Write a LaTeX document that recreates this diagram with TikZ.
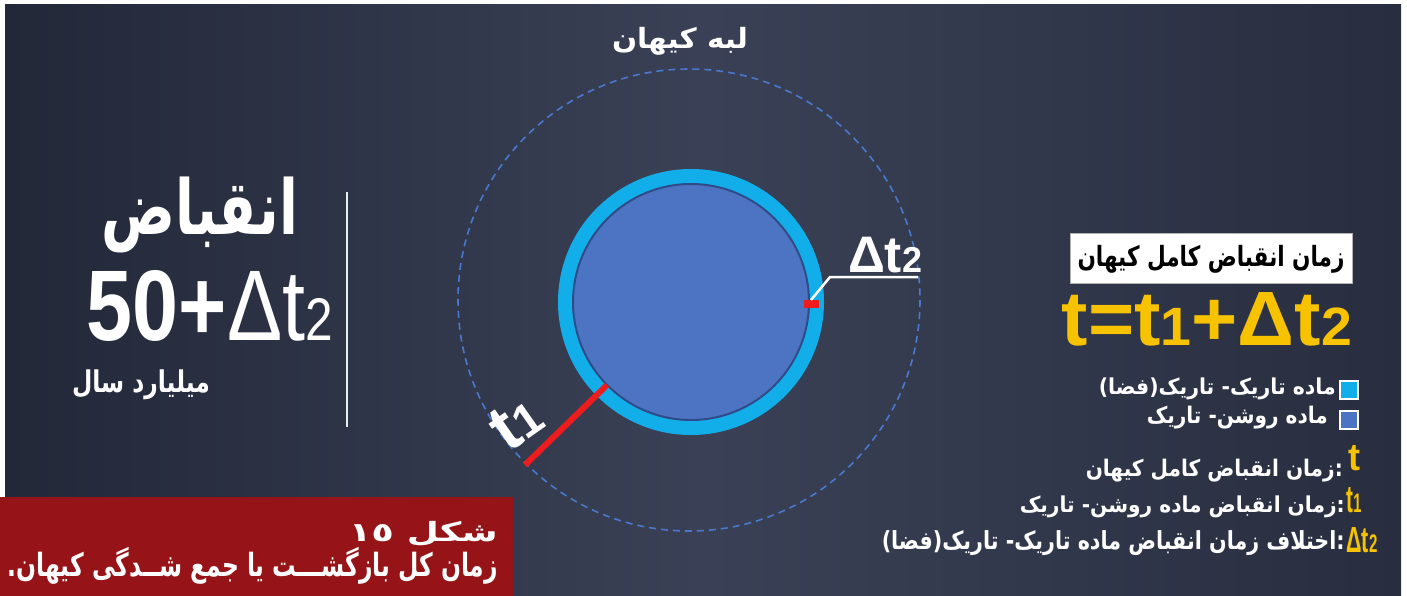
\documentclass[tikz,border=0pt]{standalone}
\usepackage{fontspec}
\usepackage{graphicx}
\setmainfont{Liberation Sans}
\newfontfamily\fa[Script=Arabic]{DejaVu Sans}
\TeXXeTstate=1
\newcommand\rtltext[1]{{\fa\bfseries\beginR #1\endR}}
\definecolor{bgL}{HTML}{222838}
\definecolor{bgM}{HTML}{3A4156}
\definecolor{bgR}{HTML}{282E3F}
\definecolor{ringblue}{HTML}{12AEEA}
\definecolor{diskblue}{HTML}{4D74C2}
\definecolor{diskedge}{HTML}{2F4C88}
\definecolor{dashblue}{HTML}{4A78CC}
\definecolor{tred}{HTML}{EE1C1C}
\definecolor{gold}{HTML}{F7C200}
\definecolor{boxred}{HTML}{961418}
\begin{document}
\begin{tikzpicture}[x=1pt,y=-1pt,
  lbl/.style={inner sep=0pt,text=white},
  goldlbl/.style={inner sep=0pt,text=gold},
  legsq/.style={draw=white,line width=1.5pt,minimum size=18pt,inner sep=0pt}]
\useasboundingbox (0,0) rectangle (1407,596);
\fill[white] (0,0) rectangle (1407,596);
\shade[left color=bgL,right color=bgR,middle color=bgM] (5,5) rectangle (1401,596);

% title
\node[lbl] (title) at (680,41) {\resizebox*{136pt}{28pt}{\rtltext{لبه کیهان}}};

% dashed edge of the cosmos
\coordinate (dc) at (689,300);
\draw[dashblue,line width=1.6pt,dash pattern=on 7pt off 5pt] (dc) circle[radius=231];

% ring and disk
\coordinate (c) at (691,302);
\fill[ringblue] (c) circle[radius=133];
\fill[diskblue] (c) circle[radius=118];
\draw[diskedge,line width=2pt] (c) circle[radius=118];

% t1
\coordinate (t1a) at (607,385);
\coordinate (t1b) at (525,465);
\draw[tred,line width=6pt] (t1a) -- (t1b);
\node[lbl,rotate=35] (t1lbl) at (516,422) {\resizebox{48pt}{!}{\bfseries t{\fontsize{7}{7}\selectfont 1}}};

% delta t2
\fill[tred] (804,300) rectangle (819,308);
\coordinate (d0) at (811,300);
\coordinate (d1) at (830,277);
\coordinate (d2) at (918,277);
\draw[white,line width=2.5pt] (d0) -- (d1) -- (d2);
\node[lbl,anchor=south] (dt2) at (885,273) {\resizebox{74pt}{!}{\bfseries Δt{\fontsize{7}{7}\selectfont 2}}};

% left block
\node[lbl] (inq) at (200,215) {\resizebox*{196pt}{76pt}{\rtltext{انقباض}}};
\node[lbl] (num) at (210,306) {\resizebox{246pt}{70pt}{{\bfseries 50+}Δt{\fontsize{6}{6}\selectfont 2}}};
\node[lbl] (yrs) at (141,385) {\resizebox*{138pt}{30pt}{\rtltext{میلیارد سال}}};
\coordinate (v0) at (347,192);
\coordinate (v1) at (347,427);
\draw[white!85!gray,line width=1.5pt] (v0) -- (v1);

% right block
\node[fill=white,draw=gray!60,line width=1pt,minimum width=282pt,minimum height=50pt,inner sep=0pt] (hbox) at (1211,258) {};
\node[inner sep=0pt,text=black] (htext) at (1211,259) {\resizebox*{267pt}{28pt}{\rtltext{زمان انقباض کامل کیهان}}};
\node[goldlbl] (formula) at (1207,319) {\resizebox{290pt}{53pt}{\bfseries t=t{\fontsize{7}{7}\selectfont 1}+Δt{\fontsize{7}{7}\selectfont 2}}};

% legend
\node[legsq,fill=ringblue] (sq1) at (1349,390) {};
\node[lbl,anchor=east] (l1) at (1336,389) {\resizebox*{237pt}{22pt}{\rtltext{ماده تاریک- تاریک(فضا)}}};
\node[legsq,fill=diskblue] (sq2) at (1349,420) {};
\node[lbl,anchor=east] (l2) at (1328,418) {\resizebox*{181pt}{23pt}{\rtltext{ماده روشن- تاریک}}};

\node[goldlbl] (k1) at (1354,458) {\resizebox{12pt}{25pt}{\bfseries t}};
\node[lbl,anchor=east] (l3) at (1343,471) {\resizebox*{257pt}{23pt}{\rtltext{:زمان انقباض کامل کیهان}}};
\node[goldlbl] (k2) at (1354,500) {\resizebox{15pt}{25pt}{\bfseries t{\fontsize{7}{7}\selectfont 1}}};
\node[lbl,anchor=east] (l4) at (1345,507) {\resizebox*{325pt}{22pt}{\rtltext{:زمان انقباض ماده روشن- تاریک}}};
\node[goldlbl] (k3) at (1362,540) {\resizebox{31pt}{25pt}{\bfseries Δt{\fontsize{7}{7}\selectfont 2}}};
\node[lbl,anchor=east] (l5) at (1345,543) {\resizebox*{463pt}{25pt}{\rtltext{:اختلاف زمان انقباض ماده تاریک- تاریک(فضا)}}};

% caption box
\fill[boxred] (0,497) rectangle (513,596);
\node[lbl,anchor=east] (cap1) at (498,534) {\resizebox*{149pt}{25pt}{\rtltext{شکل \beginL ١٥\endL}}};
\node[lbl,anchor=east] (cap2) at (498,566) {\resizebox*{490pt}{37pt}{\rtltext{زمان کل بازگشـــت یا جمع شــدگی کیهان.}}};
\end{tikzpicture}
\end{document}
